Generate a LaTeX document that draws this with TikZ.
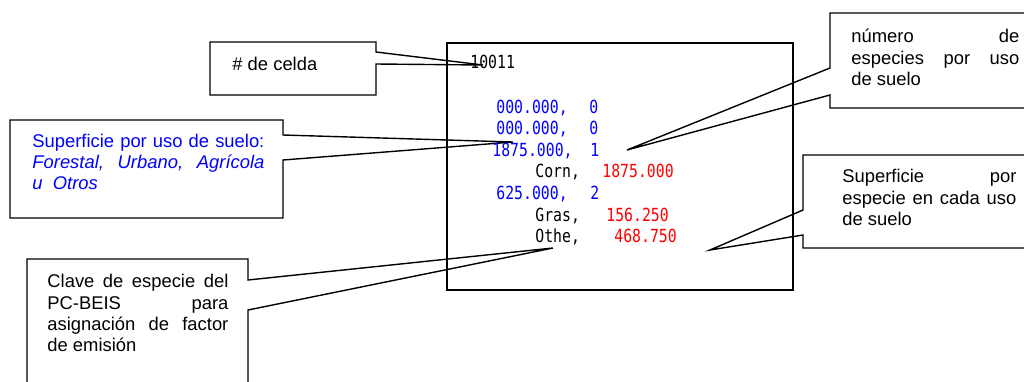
\documentclass[tikz,border=0pt]{standalone}
\usepackage{fontspec}
\setmainfont{Liberation Sans}
\newfontfamily\cellfont{DejaVu Sans Mono}
\definecolor{areablue}{HTML}{0000FF}
\definecolor{areared}{HTML}{FF0000}
\tikzset{
  callout/.style={draw=black, fill=white, line width=0.7pt, line join=miter},
  note/.style={anchor=base west, inner sep=0pt, align=justify, text width=#1,
    font=\fontsize{9.2}{10.65}\selectfont},
  note/.default=90pt,
  cell/.style={anchor=base west, inner sep=0pt, font=\cellfont\fontsize{7.4}{8}\selectfont},
  area/.style={cell, text=areablue},
  spec/.style={cell, text=black},
  frac/.style={cell, text=areared},
}
\newcommand{\tallnum}[1]{\scalebox{1}[1.22]{#1}}

\begin{document}
\begin{tikzpicture}[x=0.5pt, y=-0.5pt]
    \useasboundingbox (0,0) rectangle (1024,381);
    \clip (0,0) rectangle (1024,381);

    % pointer tips inside the cell record
    \coordinate (tipcelda) at (483,65);
    \coordinate (tipuso) at (513,142);
    \coordinate (tipnesp) at (627,150);
    \coordinate (tipsup) at (710,250);
    \coordinate (tipclave) at (553,248);

    % callouts
    \draw[callout] (210,42) -- (376,42) -- (376,52) -- (tipcelda) -- (376,64) -- (376,95) -- (210,95) -- cycle;
    \draw[callout] (10,120) -- (283,120) -- (283,135) -- (tipuso) -- (283,160) -- (283,218) -- (10,218) -- cycle;
    \draw[callout] (1040,13) -- (830,13) -- (830,68) -- (tipnesp) -- (830,95) -- (830,108) -- (1040,108);
    \draw[callout] (1040,155) -- (803,155) -- (803,210) -- (tipsup) -- (803,235) -- (803,248) -- (1040,248);
    \draw[callout] (27,400) -- (27,259) -- (248,259) -- (248,280) -- (tipclave) -- (248,310) -- (248,400);

    % cell record
    \draw[line width=0.7pt] (447,43) rectangle (793,290);
    \node[spec] (celdanum) at (470,68.3) {\tallnum{10011}};
    \node[area] (a1) at (496,113.3) {\tallnum{000.000,}};
    \node[area] (n1) at (589,113.3) {\tallnum{0}};
    \node[area] (a2) at (496,134.3) {\tallnum{000.000,}};
    \node[area] (n2) at (589,134.3) {\tallnum{0}};
    \node[area] (a3) at (492,156) {\tallnum{1875.000,}};
    \node[area] (n3) at (590,156) {\tallnum{1}};
    \node[spec] (corn) at (535,177.7) {\tallnum{Corn,}};
    \node[frac] (cornval) at (602,177.7) {\tallnum{1875.000}};
    \node[area] (a4) at (496,199) {\tallnum{625.000,}};
    \node[area] (n4) at (590,199) {\tallnum{2}};
    \node[spec] (gras) at (535,221) {\tallnum{Gras,}};
    \node[frac] (grasval) at (606,221) {\tallnum{156.250}};
    \node[spec] (othe) at (535,242.7) {\tallnum{Othe,}};
    \node[frac] (otheval) at (614,242.7) {\tallnum{468.750}};

    % callout texts
    \node[note=80pt] (celda) at (232,70) {\# de celda};
    \node[note=116pt, text=areablue] (uso) at (32,147.3) {Superficie por uso de suelo:\linebreak
      {\itshape Forestal, Urbano, Agrícola\linebreak u~ Otros}};
    \node[note=84pt] (nesp) at (851,42.7) {número de\linebreak especies por uso\linebreak de suelo};
    \node[note=87pt] (supesp) at (842,182.7) {Superficie por\linebreak especie en cada uso\linebreak de suelo};
    \node[note=90.5pt] (clave) at (47,287.7) {Clave de especie del\linebreak PC-BEIS para\linebreak
      asignación de factor\linebreak de emisión};
\end{tikzpicture}
\end{document}
